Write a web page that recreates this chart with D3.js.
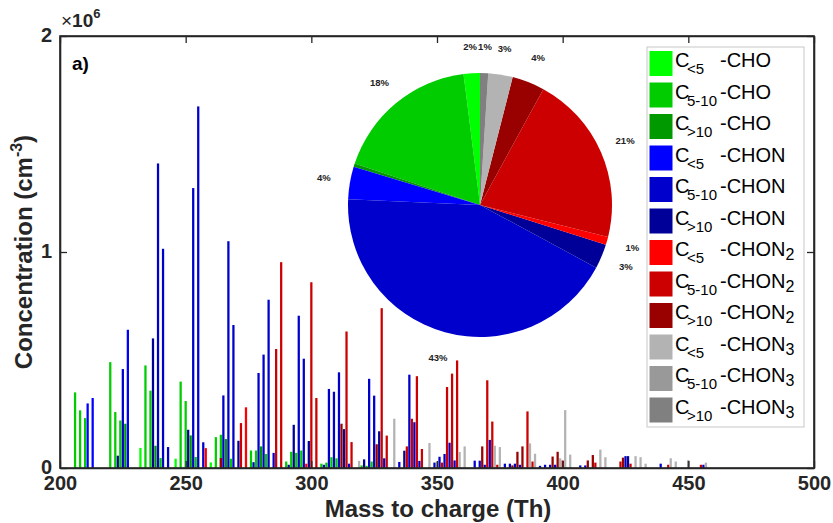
<!DOCTYPE html>
<html><head><meta charset="utf-8">
<script src="https://cdn.jsdelivr.net/npm/d3@7"></script>
<style>body{margin:0;background:#fff}svg{display:block}text{font-family:"Liberation Sans",Arial,sans-serif}</style>
</head><body><svg id="c" width="833" height="523"></svg>
<script>
// ---- data: [m/z, concentration (x1e6 cm^-3)] per category ----
const cho_lt5 = [[232,0.093],[246,0.043],[260,0.026]];
const cho_5_10 = [[206,0.35],[208,0.267],[210,0.231],[220,0.49],[222,0.259],[224,0.22],[234,0.475],[236,0.358],[240,0.046],[248,0.40],[250,0.31],[254,0.051],[262,0.143],[264,0.154],[268,0.043],[276,0.081],[278,0.081],[282,0.065],[290,0.03],[292,0.075],[294,0.07],[296,0.081],[304,0.02],[306,0.025],[308,0.05],[310,0.045],[320,0.012],[322,0.01],[324,0.03]];
const cho_gt10 = [[226,0.205],[238,0.103],[252,0.151],[266,0.134],[280,0.1]];
const chon_lt5 = [[211,0.299],[213,0.324],[227,0.64]];
const chon_5_10 = [[225,0.458],[239,1.41],[241,1.015],[243,0.097],[253,1.296],[255,1.674],[257,0.119],[265,0.336],[267,1.05],[269,0.662],[277,0.027],[279,0.44],[281,0.525],[283,0.779],[285,0.07],[295,0.705],[297,0.506],[305,0.015],[307,0.366],[309,0.353],[311,0.443],[315,0.02],[323,0.413],[325,0.335],[329,0.045],[335,0.028],[339,0.432],[341,0.212],[343,0.033],[349,0.025],[351,0.052],[353,0.065],[355,0.117],[357,0.035],[365,0.034],[367,0.034],[369,0.015],[371,0.13],[377,0.02],[379,0.02],[381,0.02],[383,0.015],[391,0.01],[393,0.015],[395,0.015],[397,0.015],[407,0.012],[409,0.012],[425,0.055],[439,0.02],[456,0.015]];
const chon_gt10 = [[223,0.057],[237,0.6],[251,0.177],[271,0.126],[291,0.015],[293,0.2],[299,0.125],[313,0.18],[321,0.04],[327,0.17],[337,0.08],[426,0.055]];
const chon2_lt5 = [[258,0.092],[274,0.281],[298,0.02]];
const chon2_5_10 = [[272,0.208],[286,0.551],[288,0.953],[300,0.86],[302,0.324],[314,0.632],[316,0.12],[328,0.74],[330,0.15],[338,0.1],[340,0.228],[342,0.425],[344,0.088],[352,0.025],[354,0.375],[356,0.437],[358,0.498],[370,0.406],[372,0.215],[374,0.015],[386,0.262],[388,0.03],[400,0.035],[413,0.025],[423,0.03],[427,0.02],[442,0.015],[455,0.015]];
const chon2_gt10 = [[264,0.046],[312,0.205],[326,0.11],[368,0.1],[380,0.012],[382,0.075],[384,0.1],[396,0.053],[398,0.075],[410,0.035],[412,0.06],[424,0.048]];
const chon3_lt5 = [[319,0.033],[333,0.228],[347,0.116],[359,0.074],[361,0.1],[373,0.103],[375,0.097],[387,0.114],[389,0.066],[399,0.045],[401,0.268],[403,0.062],[415,0.085],[417,0.05],[429,0.055],[431,0.05],[433,0.02],[443,0.045],[445,0.03],[457,0.025]];
const chon3_5_10 = [[350,0.03]];
const chon3_gt10 = [[450,0.035]];

const seriesData = [cho_lt5,cho_5_10,cho_gt10,chon_lt5,chon_5_10,chon_gt10,chon2_lt5,chon2_5_10,chon2_gt10,chon3_lt5,chon3_5_10,chon3_gt10];
const seriesColors = ["#00ff00","#00cc00","#009900","#0000ff","#0000cc","#000099","#ff0000","#cc0000","#990000","#b3b3b3","#999999","#808080"];
const legendSubs = ["<5","5-10",">10","<5","5-10",">10","<5","5-10",">10","<5","5-10",">10"];
const legendGroups = ["CHO","CHO","CHO","CHON","CHON","CHON","CHON","CHON","CHON","CHON","CHON","CHON"];
const legendGroupSubs = ["","","","","","","2","2","2","3","3","3"];

// pie: percentage share of each category (counter-clockwise from top)
const pieValues = [2,18,0.4,4,43,3,1,21,4,3,0,1];
const pieLabels = ["2%","18%","","4%","43%","3%","1%","21%","4%","3%","","1%"];

const xTicks = [200,250,300,350,400,450,500];
const yTicks = [0,1,2];

// ---- drawing ----
const svg = d3.select("#c");
const L=60, R=814, T=36, B=468;
const x = d3.scaleLinear().domain([200,500]).range([L,R]);
const y = d3.scaleLinear().domain([0,2]).range([B,T]);
const font = '"Liberation Sans",Arial,sans-serif';
const axc = "#262626";

// bars
seriesData.forEach((s,i)=>{
  svg.append("g").selectAll("rect").data(s).join("rect")
    .attr("x",d=>x(d[0]-0.45)).attr("width",d=>x(d[0]+0.45)-x(d[0]-0.45))
    .attr("y",d=>y(d[1])).attr("height",d=>y(0)-y(d[1]))
    .attr("fill",seriesColors[i]);
});

// axes
const tickLen = 7;
const gx = svg.append("g").attr("transform",`translate(0,${B})`)
  .call(d3.axisBottom(x).tickValues(xTicks).tickSizeInner(-tickLen).tickSizeOuter(0).tickPadding(8));
const gxt = svg.append("g").attr("transform",`translate(0,${T})`)
  .call(d3.axisTop(x).tickValues(xTicks).tickSizeInner(-tickLen).tickSizeOuter(0).tickFormat(""));
const gy = svg.append("g").attr("transform",`translate(${L},0)`)
  .call(d3.axisLeft(y).tickValues(yTicks).tickSizeInner(-tickLen).tickSizeOuter(0).tickPadding(8).tickFormat(d3.format("d")));
const gyr = svg.append("g").attr("transform",`translate(${R},0)`)
  .call(d3.axisRight(y).tickValues(yTicks).tickSizeInner(-tickLen).tickSizeOuter(0).tickFormat(""));
[gx,gxt,gy,gyr].forEach(g=>{
  g.select(".domain").attr("stroke",axc).attr("stroke-width",1.6);
  g.selectAll(".tick line").attr("stroke",axc).attr("stroke-width",1.3);
  g.selectAll(".tick text").attr("fill",axc).style("font-family",font).style("font-weight","bold").style("font-size","20px");
});
gy.selectAll(".tick text").attr("dy","0.28em");
svg.append("rect").attr("x",L).attr("y",T).attr("width",R-L).attr("height",B-T)
  .attr("fill","none").attr("stroke",axc).attr("stroke-width",1.6);

// exponent
const ex = svg.append("text").attr("x",61).attr("y",27).attr("fill",axc)
  .style("font-size","19px").style("font-family",font).style("font-weight","bold");
ex.append("tspan").style("font-weight","normal").text("×");
ex.append("tspan").text("10");
ex.append("tspan").attr("dy",-9).style("font-size","13px").text("6");

// axis titles
svg.append("text").attr("x",438).attr("y",517).attr("text-anchor","middle").attr("fill",axc)
  .style("font-size","24px").style("font-weight","bold").text("Mass to charge (Th)");
const yl = svg.append("text").attr("transform",`translate(32,${(T+B)/2}) rotate(-90)`).attr("text-anchor","middle").attr("fill",axc)
  .style("font-size","24px").style("font-weight","bold");
yl.append("tspan").text("Concentration (cm");
yl.append("tspan").attr("dy",-10).style("font-size","16px").text("-3");
yl.append("tspan").attr("dy",10).text(")");

// panel label
svg.append("text").attr("x",72).attr("y",70).attr("fill","#000").style("font-size","19px").style("font-weight","bold").text("a)");

// pie
const cx=480, cy=205, r=132;
const pie = d3.pie().sort(null).startAngle(0).endAngle(-2*Math.PI);
const arcs = pie(pieValues);
const arc = d3.arc().innerRadius(0).outerRadius(r);
const pg = svg.append("g").attr("transform",`translate(${cx},${cy})`);
pg.selectAll("path").data(arcs).join("path").attr("d",arc).attr("fill",(d,i)=>seriesColors[i]);
const lr = r*1.2;
pg.selectAll("text").data(arcs).join("text")
  .attr("x",d=>lr*Math.sin((d.startAngle+d.endAngle)/2))
  .attr("y",d=>-lr*Math.cos((d.startAngle+d.endAngle)/2)+3)
  .attr("text-anchor","middle").style("font-size","9.5px").style("font-weight","bold").attr("fill","#222")
  .text((d,i)=>pieLabels[i]);

// legend
const lx=647, ly=47, lw=157, rowH=31.5;
svg.append("rect").attr("x",lx).attr("y",ly).attr("width",lw).attr("height",rowH*12+2)
  .attr("fill","#fff").attr("stroke","#c8c8c8").attr("stroke-width",1);
seriesColors.forEach((c,i)=>{
  const yy = ly+4+i*rowH;
  svg.append("rect").attr("x",lx+2.5).attr("y",yy).attr("width",23).attr("height",25).attr("fill",c);
  const base = yy+16;
  svg.append("text").attr("x",675).attr("y",base).style("font-size","20px").attr("fill","#000").text("C");
  svg.append("text").attr("x",687).attr("y",base+7).style("font-size","15px").attr("fill","#000").text(legendSubs[i]);
  const t = svg.append("text").attr("x",720).attr("y",base).style("font-size","20px").attr("fill","#000");
  t.append("tspan").text("-"+legendGroups[i]);
  if(legendGroupSubs[i]) t.append("tspan").attr("dy",4).style("font-size","16px").text(legendGroupSubs[i]);
});
</script></body></html>
